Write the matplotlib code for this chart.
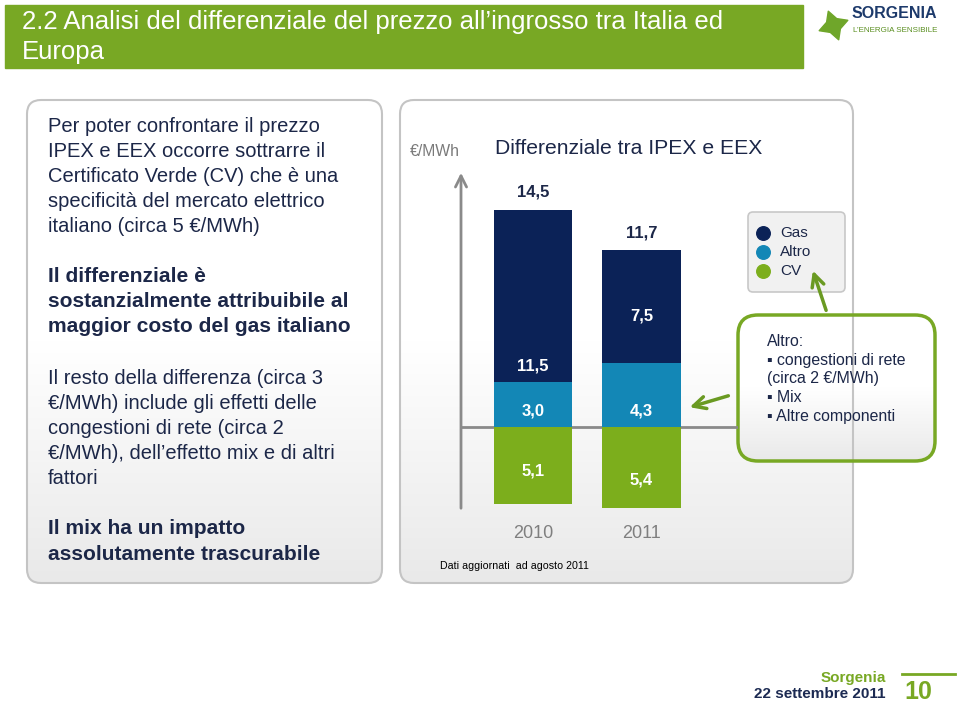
import numpy as np
import matplotlib
matplotlib.use('Agg')
import matplotlib.pyplot as plt
from matplotlib.patches import FancyBboxPatch, Rectangle
from matplotlib.colors import LinearSegmentedColormap

plt.rcParams['font.family'] = ['Liberation Sans', 'DejaVu Sans']

# data
years = ['2010', '2011']
gas = [11.5, 7.5]
altro = [3.0, 4.3]
cv = [5.1, 5.4]
totals = [14.5, 11.7]

# where the value labels sit inside the segments (data units)
gas_label_y = [4.07, 7.4]
altro_label_y = [1.07, 1.07]
cv_label_y = [-2.93, -3.53]

GREEN = '#78a824'
GAS = '#0b2257'
ALTRO = '#1387b6'
CV = '#7cae1c'
NAVY = '#1c2748'
GRAY = '#8a8a8a'

def fmt(v):
    return f'{v:.1f}'.replace('.', ',')

fig = plt.figure(figsize=(9.6, 7.06), dpi=100)
bg = fig.add_axes([0, 0, 1, 1])
bg.axis('off')
bg.set_autoscale_on(False)
bg.set_xlim(0, 960)
bg.set_ylim(706, 0)

grad_cmap = LinearSegmentedColormap.from_list('panel', ['#ffffff', '#ffffff', '#e9e9e9'])

def panel(x0, y0, w, h, ec, lw, r):
    box = FancyBboxPatch((x0, y0), w, h, boxstyle=f'round,pad=0,rounding_size={r}',
                         fc='none', ec=ec, lw=lw, zorder=3)
    bg.add_patch(box)
    grad = np.linspace(0, 1, 256).reshape(-1, 1)
    im = bg.imshow(grad, cmap=grad_cmap, extent=(x0, x0 + w, y0 + h, y0),
                   aspect='auto', zorder=2)
    im.set_clip_path(box)

# title bar
bg.add_patch(Rectangle((5, 5), 798, 63, color=GREEN, zorder=1))
bg.text(22, 22, '2.2 Analisi del differenziale del prezzo all\u2019ingrosso tra Italia ed',
        color='white', fontsize=18.5, va='center', zorder=4)
bg.text(22, 52, 'Europa', color='white', fontsize=18.5, va='center', zorder=4)

# logo
bg.scatter(833, 25, marker=(4, 1, 20), s=480, color='#6fa62a', zorder=4)
bg.text(852, 14, 'SORGENIA', color='#1d3a6b', fontsize=11.5, fontweight='bold',
        va='center', zorder=4)
bg.text(853, 30, 'L\u2019ENERGIA SENSIBILE', color='#5a8f20', fontsize=5.8,
        va='center', zorder=4)

# left panel
panel(27, 100, 355, 483, '#c4c4c4', 1.5, 14)
paragraphs = [
    (126, 'normal', ['Per poter confrontare il prezzo', 'IPEX e EEX occorre sottrarre il',
                     'Certificato Verde (CV) che \u00e8 una', 'specificit\u00e0 del mercato elettrico',
                     'italiano (circa 5 \u20ac/MWh)']),
    (276, 'bold', ['Il differenziale \u00e8', 'sostanzialmente attribuibile al',
                   'maggior costo del gas italiano']),
    (378, 'normal', ['Il resto della differenza (circa 3', '\u20ac/MWh) include gli effetti delle',
                     'congestioni di rete (circa 2', '\u20ac/MWh), dell\u2019effetto mix e di altri',
                     'fattori']),
    (529, 'bold', ['Il mix ha un impatto', 'assolutamente trascurabile']),
]
for y0, weight, lines in paragraphs:
    size = 14.5 if weight == 'normal' else 15.1
    for i, line in enumerate(lines):
        bg.text(48, y0 + i * 25.2, line, fontsize=size, fontweight=weight,
                color=NAVY, va='center', zorder=4)

# right panel
panel(400, 100, 453, 483, '#c4c4c4', 1.5, 14)
bg.text(410, 152, '\u20ac/MWh', fontsize=11.3, color='#7a7a7a', va='center', zorder=4)
bg.text(495, 149, 'Differenziale tra IPEX e EEX', fontsize=15.2, color=NAVY,
        va='center', zorder=4)
bg.text(440, 566, 'Dati aggiornati  ad agosto 2011', fontsize=7.7, color='black',
        va='center', zorder=4)

# legend
leg = FancyBboxPatch((748, 212), 97, 80, boxstyle='round,pad=0,rounding_size=5',
                     fc='#f1f1f1', ec='#c8c8c8', lw=1.2, zorder=3)
bg.add_patch(leg)
for yy, name, col in zip([233, 252, 271], ['Gas', 'Altro', 'CV'], [GAS, ALTRO, CV]):
    bg.scatter(763, yy, s=95, color=col, zorder=5)
    bg.text(780, yy, name, fontsize=11, color=NAVY, va='center', zorder=5)

# callout
panel(738, 315, 197, 146, GREEN, 2.5, 20)
callout = ['Altro:', '\u25aa congestioni di rete', '(circa 2 \u20ac/MWh)', '\u25aa Mix',
           '\u25aa Altre componenti']
for i, line in enumerate(callout):
    bg.text(767, 341 + i * 19, line, fontsize=11.4, color=NAVY, va='center', zorder=5)

arrow = dict(arrowstyle='->', color='#6a9a22', lw=2.5, mutation_scale=22)
bg.annotate('', xy=(812, 268), xytext=(827, 313), arrowprops=arrow, zorder=6)
bg.annotate('', xy=(687, 408), xytext=(731, 395), arrowprops=arrow, zorder=6)

# footer
bg.plot([902, 955], [674, 674], color=GREEN, lw=2, zorder=4)
bg.text(918, 692, '10', fontsize=18, fontweight='bold', color=GREEN,
        ha='center', va='center', zorder=4)
bg.text(886, 678, 'Sorgenia', fontsize=11, fontweight='bold', color=GREEN,
        ha='right', va='center', zorder=4)
bg.text(886, 694, '22 settembre 2011', fontsize=11, fontweight='bold', color='#1c2a52',
        ha='right', va='center', zorder=4)

# chart
ax = fig.add_axes([461 / 960, (706 - 511) / 706, (738 - 461) / 960, 341 / 706])
ax.patch.set_alpha(0)
ax.set_zorder(5)
x = np.arange(len(years))
w = 0.72
ax.bar(x, gas, bottom=altro, width=w, color=GAS, clip_on=False)
ax.bar(x, altro, width=w, color=ALTRO, clip_on=False)
ax.bar(x, [-v for v in cv], width=w, color=CV, clip_on=False)
ax.set_xlim(-(533 - 461) / 108.5, 1 + (738 - 641.5) / 108.5)
ax.set_ylim(-(511 - 427) / 15, (427 - 170) / 15)
ax.axhline(0, color=GRAY, lw=2, zorder=0)
for s in ax.spines.values():
    s.set_visible(False)
ax.set_xticks([])
ax.set_yticks([])
ax.annotate('', xy=(0, 1), xytext=(0, 0), xycoords='axes fraction',
            arrowprops=dict(arrowstyle='->', color=GRAY, lw=2, mutation_scale=20))

lab = dict(ha='center', va='center', color='white', fontsize=12, fontweight='bold')
for i in range(len(years)):
    ax.annotate(fmt(totals[i]), (x[i], gas[i] + altro[i]), xytext=(0, 7),
                textcoords='offset points', ha='center', va='bottom',
                color=NAVY, fontsize=12, fontweight='bold')
    ax.text(x[i], gas_label_y[i], fmt(gas[i]), **lab)
    ax.text(x[i], altro_label_y[i], fmt(altro[i]), **lab)
    ax.text(x[i], cv_label_y[i], fmt(cv[i]), **lab)
    ax.text(x[i], -(533 - 427) / 15, years[i], ha='center', va='center',
            color='#7f7f7f', fontsize=13, clip_on=False)

fig.savefig('out.png', dpi=100)
